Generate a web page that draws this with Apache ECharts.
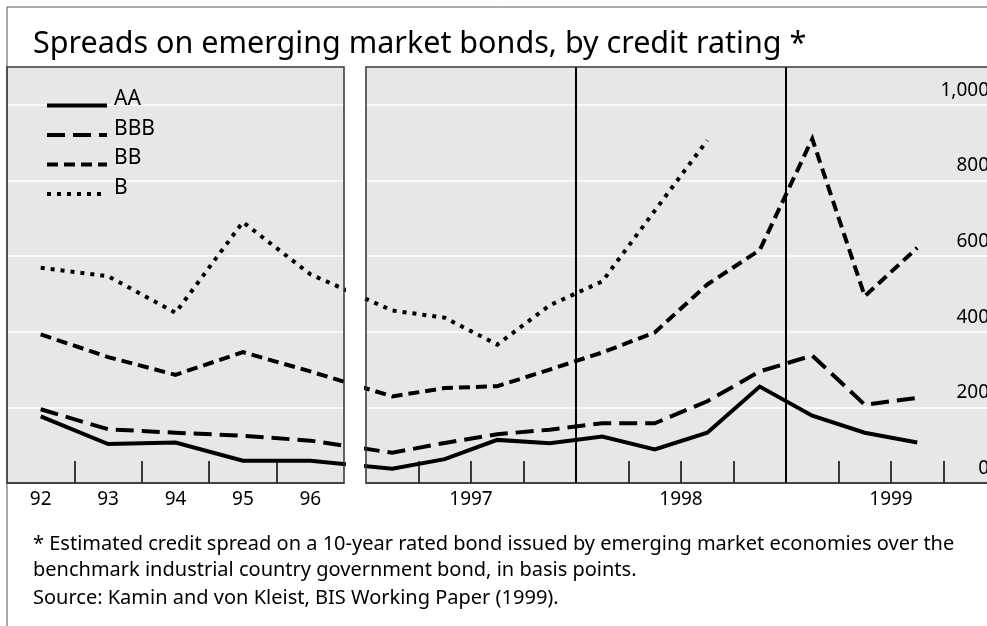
<!DOCTYPE html>
<html lang="en">
<head>
<meta charset="UTF-8">
<title>spreads</title>
<script src="https://cdn.jsdelivr.net/npm/echarts@6/dist/echarts.min.js"></script>
<style>
  html, body { margin: 0; padding: 0; background: #fff; }
  #chart { width: 987px; height: 626px; }
</style>
</head>
<body>
<div id="chart"></div>
<script>
// annual panel (1992-96) and quarterly panel (1997 Q1 - 1999 Q3), basis points
var leftYears = ['92', '93', '94', '95', '96'];
var rightYears = ['1997', '1998', '1999'];
var quarters = ['97Q1', '97Q2', '97Q3', '97Q4', '98Q1', '98Q2', '98Q3', '98Q4', '99Q1', '99Q2', '99Q3'];

var aaLeft = [176, 103, 107, 59, 59];
var bbbLeft = [195, 142, 133, 125, 112];
var bbLeft = [393, 333, 286, 346, 295];
var bLeft = [569, 547, 450, 690, 552];

var aaRight = [38, 63, 114, 105, 123, 89, 133, 255, 178, 133, 107];
var bbbRight = [80, 106, 129, 141, 158, 158, 216, 295, 337, 207, 225];
var bbRight = [229, 251, 256, 300, 345, 398, 525, 616, 910, 494, 622];
var bRight = [456, 437, 366, 470, 533, 720, 906, null, null, null, null];

var yTicks = [0, 200, 400, 600, 800, 1000];

// layout
var TOP = 67, PLOT_H = 416;
var LEFT_X = 7, LEFT_W = 337;
var RIGHT_X = 366, RIGHT_W = 630;   // runs past the window edge
var CAT_W = LEFT_W / leftYears.length;
var Q_W = RIGHT_W / 12;

var FONT = 'Noto Sans';
var dashes = { AA: 'solid', BBB: [18, 8], BB: [11, 6], B: [4, 6] };

// lines cross the gap between the panels: put each panel's neighbour point in its own scale
var bridgeInLeft = (RIGHT_X + 0.5 * Q_W - LEFT_X) / CAT_W;
var bridgeInRight = (LEFT_X + (leftYears.length - 0.5) * CAT_W - RIGHT_X) / Q_W;

function leftData(vals, next) {
    var d = vals.map(function (v, i) { return [i + 0.5, v]; });
    d.push([bridgeInLeft, next[0]]);
    return d;
}
function rightData(vals, prev) {
    var d = [[bridgeInRight, prev[prev.length - 1]]];
    vals.forEach(function (v, i) { d.push([i + 0.5, v == null ? '-' : v]); });
    return d;
}
function fmt(v) {
    return v >= 1000 ? Math.floor(v / 1000) + ',' + String(v % 1000).padStart(3, '0') : String(v);
}

var groups = [
    { name: 'AA', l: aaLeft, r: aaRight },
    { name: 'BBB', l: bbbLeft, r: bbbRight },
    { name: 'BB', l: bbLeft, r: bbRight },
    { name: 'B', l: bLeft, r: bRight }
];

var series = [];
groups.forEach(function (g, k) {
    var ls = { color: '#000', width: 4, type: dashes[g.name], cap: 'butt', join: 'miter' };
    series.push({
        name: g.name, type: 'line', xAxisIndex: 0, yAxisIndex: 0,
        symbol: 'none', silent: true, lineStyle: ls, itemStyle: { color: '#000' },
        data: leftData(g.l, g.r)
    });
    var s = {
        name: g.name, type: 'line', xAxisIndex: 1, yAxisIndex: 1,
        symbol: 'none', silent: true, lineStyle: ls, itemStyle: { color: '#000' },
        data: rightData(g.r, g.l)
    };
    if (k === 0) {
        s.markLine = {
            silent: true, symbol: 'none', label: { show: false },
            lineStyle: { color: '#000', width: 2, type: 'solid' },
            data: [{ xAxis: 4 }, { xAxis: 8 }]
        };
    }
    series.push(s);
});

var chart = echarts.init(document.getElementById('chart'));

var yBase = {
    type: 'value', min: 0, max: 1100, interval: 200,
    axisLine: { show: false }, axisTick: { show: false },
    splitLine: { show: true, lineStyle: { color: '#fff', width: 1.5 } }
};

chart.setOption({
    animation: false,
    backgroundColor: '#fff',
    title: [
        {
            text: 'Spreads on emerging market bonds, by credit rating *',
            left: 28, top: 24,
            textStyle: { fontFamily: FONT, fontSize: 30.5, fontWeight: 'normal', color: '#000' }
        },
        {
            text: '* Estimated credit spread on a 10-year rated bond issued by emerging market economies over the\nbenchmark industrial country government bond, in basis points.',
            left: 28, top: 526,
            textStyle: { fontFamily: FONT, fontSize: 20, fontWeight: 'normal', color: '#000', lineHeight: 26 }
        },
        {
            text: 'Source: Kamin and von Kleist, BIS Working Paper (1999).',
            left: 28, top: 580,
            textStyle: { fontFamily: FONT, fontSize: 20, fontWeight: 'normal', color: '#000', lineHeight: 26 }
        }
    ],
    legend: {
        data: ['AA', 'BBB', 'BB', 'B'],
        orient: 'vertical', left: 40, top: 84,
        itemWidth: 60, itemHeight: 20, itemGap: 5,
        selectedMode: false,
        itemStyle: { opacity: 0 },
        lineStyle: { width: 4 },
        formatter: '{t|{name}}',
        textStyle: {
            color: '#000',
            rich: { t: { fontFamily: FONT, fontSize: 21, color: '#000', padding: [0, 0, 12, 2] } }
        }
    },
    grid: [
        { left: LEFT_X, top: TOP, width: LEFT_W, height: PLOT_H, show: true, backgroundColor: '#e7e7e7', borderWidth: 0, outerBoundsMode: 'none' },
        { left: RIGHT_X, top: TOP, width: RIGHT_W, height: PLOT_H, show: true, backgroundColor: '#e7e7e7', borderWidth: 0, outerBoundsMode: 'none' }
    ],
    xAxis: [
        {
            gridIndex: 0, type: 'value', min: 0, max: leftYears.length,
            splitLine: { show: false },
            axisLine: { show: true, onZero: false, lineStyle: { color: '#444', width: 1.5 } },
            axisTick: { show: true, inside: true, length: 22, customValues: [1, 2, 3, 4], lineStyle: { color: '#000', width: 1.5 } },
            axisLabel: {
                customValues: leftYears.map(function (y, i) { return i + 0.5; }),
                formatter: function (v) { return leftYears[Math.floor(v)]; },
                margin: 7, fontFamily: FONT, fontSize: 19, color: '#000'
            }
        },
        {
            gridIndex: 1, type: 'value', min: 0, max: 12,
            splitLine: { show: false },
            axisLine: { show: true, onZero: false, lineStyle: { color: '#444', width: 1.5 } },
            axisTick: { show: true, inside: true, length: 22, customValues: [1, 2, 3, 4, 5, 6, 7, 8, 9, 10, 11], lineStyle: { color: '#000', width: 1.5 } },
            axisLabel: {
                customValues: rightYears.map(function (y, i) { return 2 + 4 * i; }),
                formatter: function (v) { return rightYears[(v - 2) / 4]; },
                margin: 7, fontFamily: FONT, fontSize: 19, color: '#000'
            }
        }
    ],
    yAxis: [
        Object.assign({ gridIndex: 0, axisLabel: { show: false } }, yBase),
        Object.assign({
            gridIndex: 1, position: 'right',
            axisLabel: {
                inside: true, margin: 7, verticalAlign: 'bottom', lineHeight: 19, padding: [0, 0, 5, 0],
                fontFamily: FONT, fontSize: 19, color: '#000',
                formatter: function (v) { return yTicks.indexOf(v) >= 0 ? fmt(v) : ''; }
            }
        }, yBase)
    ],
    graphic: [
        { type: 'rect', z: 100, silent: true, shape: { x: LEFT_X, y: 7, width: 1000, height: 700 }, style: { fill: null, stroke: '#555', lineWidth: 1 } },
        { type: 'rect', z: 100, silent: true, shape: { x: LEFT_X, y: TOP, width: LEFT_W, height: PLOT_H }, style: { fill: null, stroke: '#333', lineWidth: 1.5 } },
        { type: 'rect', z: 100, silent: true, shape: { x: RIGHT_X, y: TOP, width: RIGHT_W, height: PLOT_H }, style: { fill: null, stroke: '#333', lineWidth: 1.5 } }
    ],
    series: series
});
</script>
</body>
</html>
